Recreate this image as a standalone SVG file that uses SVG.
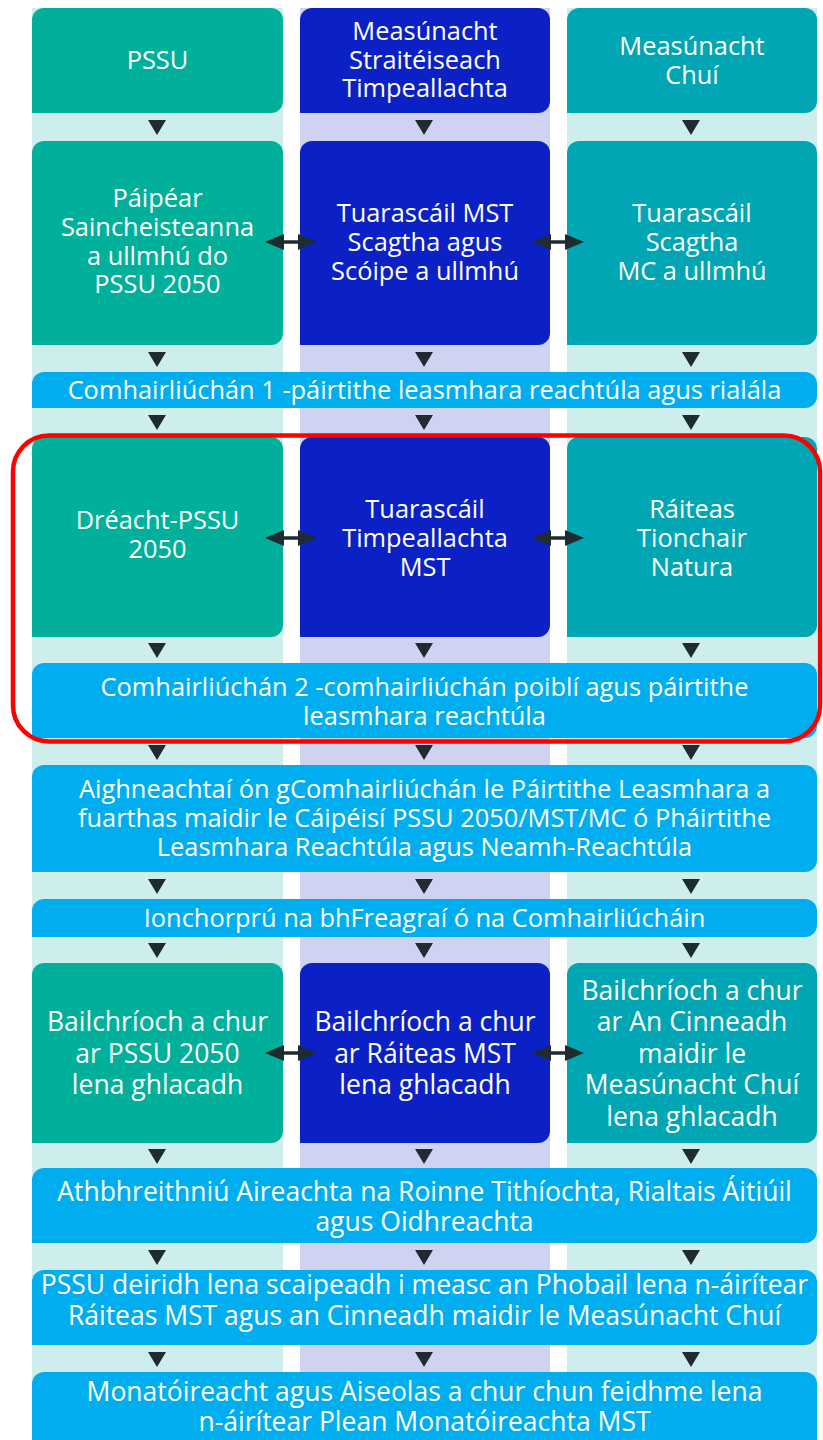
<svg xmlns="http://www.w3.org/2000/svg" width="823" height="1440" viewBox="0 0 823 1440">
<style>
.bgc{fill:#cdeeec}
.bgm{fill:#d0d2f2}
.g{fill:#00b09b}
.b{fill:#0b21c6}
.t{fill:#00a6b3}
.band{fill:#00aeef}
text{font-family:"Open Sans","Noto Sans","Liberation Sans",sans-serif;font-size:25.4px;fill:#ffffff;text-anchor:middle}
text.lg{font-size:26.5px}
.tri{fill:#1f2b30}
.dl{stroke:#1f2b30;stroke-width:3.5;fill:none}
.hl{fill:none;stroke:#ff0000;stroke-width:4.5}
</style>
<rect width="823" height="1440" fill="#ffffff"/>
<g id="columns">
<rect class="bgc" x="32" y="8" width="251" height="1432"/>
<rect class="bgm" x="300" y="8" width="250" height="1432"/>
<rect class="bgc" x="567" y="8" width="250" height="1432"/>
</g>
<g id="n-pssu"><path class="g" d="M32,20 a12,12 0 0 1 12,-12 H271 a12,12 0 0 1 12,12 V101 a12,12 0 0 1 -12,12 H32 Z"/><text x="157.5" y="69">PSSU</text></g>
<g id="n-mst"><path class="b" d="M300,20 a12,12 0 0 1 12,-12 H538 a12,12 0 0 1 12,12 V101 a12,12 0 0 1 -12,12 H300 Z"/><text x="425" y="40">Measúnacht<tspan x="425" dy="29">Straitéiseach</tspan><tspan x="425" dy="28">Timpeallachta</tspan></text></g>
<g id="n-mc"><path class="t" d="M567,20 a12,12 0 0 1 12,-12 H805 a12,12 0 0 1 12,12 V101 a12,12 0 0 1 -12,12 H567 Z"/><text x="692" y="55">Measúnacht<tspan x="692" dy="29">Chuí</tspan></text></g>

<g id="n-paipear"><path class="g" d="M32,153 a12,12 0 0 1 12,-12 H271 a12,12 0 0 1 12,12 V333 a12,12 0 0 1 -12,12 H32 Z"/><text x="157.5" y="207">Páipéar<tspan x="157.5" dy="29">Saincheisteanna</tspan><tspan x="157.5" dy="29">a ullmhú do</tspan><tspan x="157.5" dy="28">PSSU 2050</tspan></text></g>
<g id="n-scagtha-mst"><path class="b" d="M300,153 a12,12 0 0 1 12,-12 H538 a12,12 0 0 1 12,12 V333 a12,12 0 0 1 -12,12 H300 Z"/><text x="425" y="222">Tuarascáil MST<tspan x="425" dy="29">Scagtha agus</tspan><tspan x="425" dy="29">Scóipe a ullmhú</tspan></text></g>
<g id="n-scagtha-mc"><path class="t" d="M567,153 a12,12 0 0 1 12,-12 H805 a12,12 0 0 1 12,12 V333 a12,12 0 0 1 -12,12 H567 Z"/><text x="692" y="222">Tuarascáil<tspan x="692" dy="29">Scagtha</tspan><tspan x="692" dy="29">MC a ullmhú</tspan></text></g>

<g id="n-comh1"><path class="band" d="M32,384 a12,12 0 0 1 12,-12 H805 a12,12 0 0 1 12,12 V396 a12,12 0 0 1 -12,12 H32 Z"/><text x="424.5" y="399">Comhairliúchán 1 -páirtithe leasmhara reachtúla agus rialála</text></g>

<g id="n-dreacht"><path class="g" d="M32,449 a12,12 0 0 1 12,-12 H271 a12,12 0 0 1 12,12 V625 a12,12 0 0 1 -12,12 H32 Z"/><text x="157.5" y="529">Dréacht-PSSU<tspan x="157.5" dy="29">2050</tspan></text></g>
<g id="n-tuar-mst"><path class="b" d="M300,449 a12,12 0 0 1 12,-12 H538 a12,12 0 0 1 12,12 V625 a12,12 0 0 1 -12,12 H300 Z"/><text x="425" y="518">Tuarascáil<tspan x="425" dy="29">Timpeallachta</tspan><tspan x="425" dy="29">MST</tspan></text></g>
<g id="n-natura"><path class="t" d="M567,449 a12,12 0 0 1 12,-12 H805 a12,12 0 0 1 12,12 V625 a12,12 0 0 1 -12,12 H567 Z"/><text x="692" y="518">Ráiteas<tspan x="692" dy="29">Tionchair</tspan><tspan x="692" dy="29">Natura</tspan></text></g>

<g id="n-comh2"><path class="band" d="M32,675 a12,12 0 0 1 12,-12 H805 a12,12 0 0 1 12,12 V726 a12,12 0 0 1 -12,12 H32 Z"/><text x="424.5" y="696">Comhairliúchán 2 -comhairliúchán poiblí agus páirtithe<tspan x="424.5" dy="29">leasmhara reachtúla</tspan></text></g>

<g id="n-aighneachtai"><path class="band" d="M32,777 a12,12 0 0 1 12,-12 H805 a12,12 0 0 1 12,12 V860 a12,12 0 0 1 -12,12 H32 Z"/><text x="424.5" y="798">Aighneachtaí ón gComhairliúchán le Páirtithe Leasmhara a<tspan x="424.5" dy="29">fuarthas maidir le Cáipéisí PSSU 2050/MST/MC ó Pháirtithe</tspan><tspan x="424.5" dy="29">Leasmhara Reachtúla agus Neamh-Reachtúla</tspan></text></g>

<g id="n-ionchorpru"><path class="band" d="M32,911 a12,12 0 0 1 12,-12 H805 a12,12 0 0 1 12,12 V925 a12,12 0 0 1 -12,12 H32 Z"/><text x="424.5" y="927">Ionchorprú na bhFreagraí ó na Comhairliúcháin</text></g>

<g id="n-bail-pssu"><path class="g" d="M32,975 a12,12 0 0 1 12,-12 H271 a12,12 0 0 1 12,12 V1131 a12,12 0 0 1 -12,12 H32 Z"/><text class="lg" x="157.5" y="1031">Bailchríoch a chur<tspan x="157.5" dy="31.5">ar PSSU 2050</tspan><tspan x="157.5" dy="31.5">lena ghlacadh</tspan></text></g>
<g id="n-bail-mst"><path class="b" d="M300,975 a12,12 0 0 1 12,-12 H538 a12,12 0 0 1 12,12 V1131 a12,12 0 0 1 -12,12 H300 Z"/><text class="lg" x="425" y="1031">Bailchríoch a chur<tspan x="425" dy="31.5">ar Ráiteas MST</tspan><tspan x="425" dy="31.5">lena ghlacadh</tspan></text></g>
<g id="n-bail-mc"><path class="t" d="M567,975 a12,12 0 0 1 12,-12 H805 a12,12 0 0 1 12,12 V1131 a12,12 0 0 1 -12,12 H567 Z"/><text class="lg" x="692" y="999.5">Bailchríoch a chur<tspan x="692" dy="31.5">ar An Cinneadh</tspan><tspan x="692" dy="31.5">maidir le</tspan><tspan x="692" dy="31.5">Measúnacht Chuí</tspan><tspan x="692" dy="31.5">lena ghlacadh</tspan></text></g>

<g id="n-athbhreithniu"><path class="band" d="M32,1180 a12,12 0 0 1 12,-12 H805 a12,12 0 0 1 12,12 V1231 a12,12 0 0 1 -12,12 H32 Z"/><text class="lg" x="424.5" y="1201">Athbhreithniú Aireachta na Roinne Tithíochta, Rialtais Áitiúil<tspan x="424.5" dy="30">agus Oidhreachta</tspan></text></g>

<g id="n-deiridh"><path class="band" d="M32,1282 a12,12 0 0 1 12,-12 H805 a12,12 0 0 1 12,12 V1333 a12,12 0 0 1 -12,12 H32 Z"/><text class="lg" x="424.5" y="1294">PSSU deiridh lena scaipeadh i measc an Phobail lena n-áirítear<tspan x="424.5" dy="30.5">Ráiteas MST agus an Cinneadh maidir le Measúnacht Chuí</tspan></text></g>

<g id="n-monatoireacht"><path class="band" d="M32,1384 a12,12 0 0 1 12,-12 H805 a12,12 0 0 1 12,12 V1440 H32 Z"/><text class="lg" x="424.5" y="1401">Monatóireacht agus Aiseolas a chur chun feidhme lena<tspan x="424.5" dy="30">n-áirítear Plean Monatóireachta MST</tspan></text></g>

<g id="connectors">
<g id="down-arrows">
<path class="tri" d="M148,120 h18 l-9,15 Z M415,120 h18 l-9,15 Z M682,120 h18 l-9,15 Z"/>
<path class="tri" d="M148,352 h18 l-9,15 Z M415,352 h18 l-9,15 Z M682,352 h18 l-9,15 Z"/>
<path class="tri" d="M148,415 h18 l-9,15 Z M415,415 h18 l-9,15 Z M682,415 h18 l-9,15 Z"/>
<path class="tri" d="M148,643 h18 l-9,15 Z M415,643 h18 l-9,15 Z M682,643 h18 l-9,15 Z"/>
<path class="tri" d="M148,745 h18 l-9,15 Z M415,745 h18 l-9,15 Z M682,745 h18 l-9,15 Z"/>
<path class="tri" d="M148,879 h18 l-9,15 Z M415,879 h18 l-9,15 Z M682,879 h18 l-9,15 Z"/>
<path class="tri" d="M148,943 h18 l-9,15 Z M415,943 h18 l-9,15 Z M682,943 h18 l-9,15 Z"/>
<path class="tri" d="M148,1149 h18 l-9,15 Z M415,1149 h18 l-9,15 Z M682,1149 h18 l-9,15 Z"/>
<path class="tri" d="M148,1250 h18 l-9,15 Z M415,1250 h18 l-9,15 Z M682,1250 h18 l-9,15 Z"/>
<path class="tri" d="M148,1352 h18 l-9,15 Z M415,1352 h18 l-9,15 Z M682,1352 h18 l-9,15 Z"/>
</g>
<g id="double-arrows">
<path class="dl" d="M280,242 H301 M547,242 H569 M280,538 H301 M547,538 H569 M280,1053 H301 M547,1053 H569"/>
<path class="tri" d="M265,242 l19,-8 v16 Z M317,242 l-19,-8 v16 Z M532,242 l19,-8 v16 Z M584,242 l-19,-8 v16 Z"/>
<path class="tri" d="M265,538 l19,-8 v16 Z M317,538 l-19,-8 v16 Z M532,538 l19,-8 v16 Z M584,538 l-19,-8 v16 Z"/>
<path class="tri" d="M265,1053 l19,-8 v16 Z M317,1053 l-19,-8 v16 Z M532,1053 l19,-8 v16 Z M584,1053 l-19,-8 v16 Z"/>
</g>
</g>
<g id="highlight"><rect class="hl" x="13" y="435.5" width="807" height="306" rx="36"/></g>
</svg>
